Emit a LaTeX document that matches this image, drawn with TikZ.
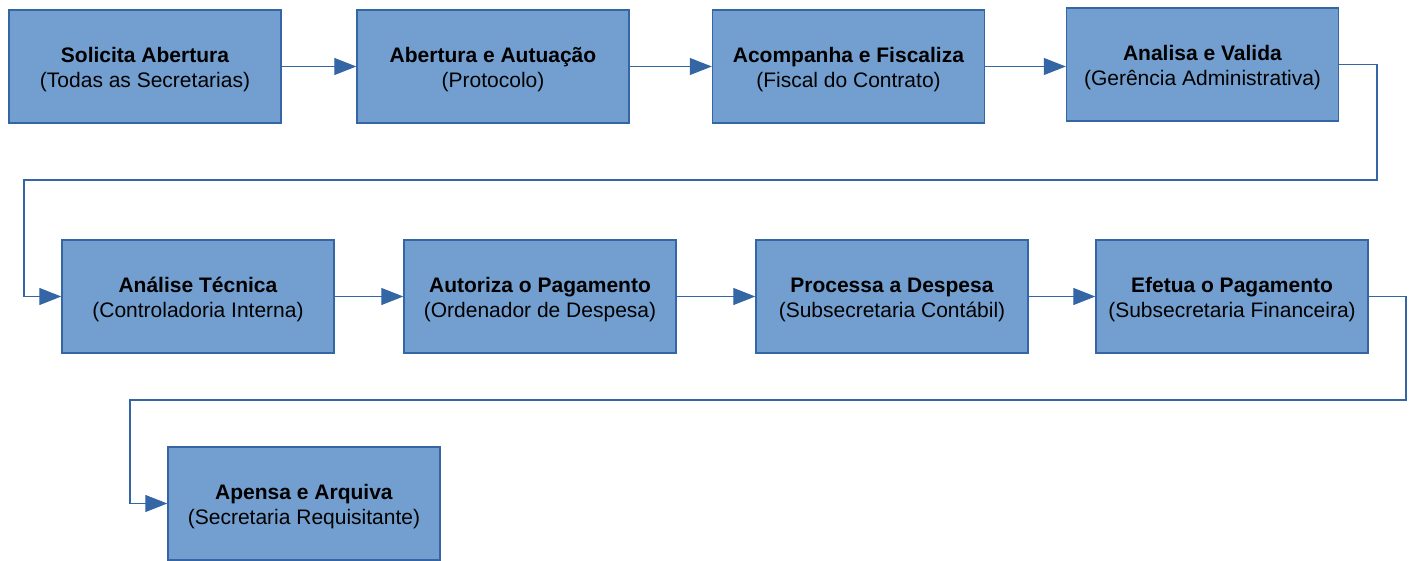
\documentclass[tikz,border=0pt]{standalone}
\usepackage{fontspec}
\setmainfont{Liberation Sans}
\usepackage{tikz}
\usetikzlibrary{arrows.meta}
\definecolor{boxblue}{RGB}{114, 159, 207}
\definecolor{edgeblue}{RGB}{52, 101, 164}

\tikzset{
  stage/.style={draw=edgeblue, line width=1.4pt, fill=boxblue, minimum width=272pt,
    minimum height=113pt, inner sep=0pt, align=center, text height=46pt,
    font=\fontsize{21}{25}\selectfont},
  flow/.style={edgeblue, line width=1.1pt, -{Triangle[length=22pt,width=17pt]}}
}

\begin{document}
\begin{tikzpicture}[x=1pt,y=-1pt]
\useasboundingbox (0,0) rectangle (1410,561);

% First row
\node[stage] (solicita) at (145,66.5) {\textbf{Solicita Abertura}\\(Todas as Secretarias)};
\node[stage] (abertura) at (493,66.5) {\textbf{Abertura e Autuação}\\(Protocolo)};
\node[stage] (fiscaliza) at (848.5,66.5) {\textbf{Acompanha e Fiscaliza}\\(Fiscal do Contrato)};
\node[stage] (valida) at (1202.5,64.5) {\textbf{Analisa e Valida}\\(Gerência Administrativa)};

% Second row
\node[stage] (tecnica) at (198,296.5) {\textbf{Análise Técnica}\\(Controladoria Interna)};
\node[stage] (autoriza) at (540,296.5) {\textbf{Autoriza o Pagamento}\\(Ordenador de Despesa)};
\node[stage] (processa) at (892,296.5) {\textbf{Processa a Despesa}\\(Subsecretaria Contábil)};
\node[stage] (efetua) at (1232,296.5) {\textbf{Efetua o Pagamento}\\(Subsecretaria Financeira)};

% Third row
\node[stage] (arquiva) at (304,503.5) {\textbf{Apensa e Arquiva}\\(Secretaria Requisitante)};

% Turning points
\coordinate (r1) at (1377,180);
\coordinate (l1) at (24,180);
\coordinate (r2) at (1406,400);
\coordinate (l2) at (130,400);

% Arrows
\draw[flow] (solicita.east) -- (solicita.east -| abertura.west);
\draw[flow] (abertura.east) -- (abertura.east -| fiscaliza.west);
\draw[flow] (fiscaliza.east) -- (fiscaliza.east -| valida.west);
\draw[flow] (valida.east) -| (r1) -- (l1) |- (tecnica.west);
\draw[flow] (tecnica.east) -- (autoriza.west);
\draw[flow] (autoriza.east) -- (processa.west);
\draw[flow] (processa.east) -- (efetua.west);
\draw[flow] (efetua.east) -| (r2) -- (l2) |- (arquiva.west);
\end{tikzpicture}
\end{document}
